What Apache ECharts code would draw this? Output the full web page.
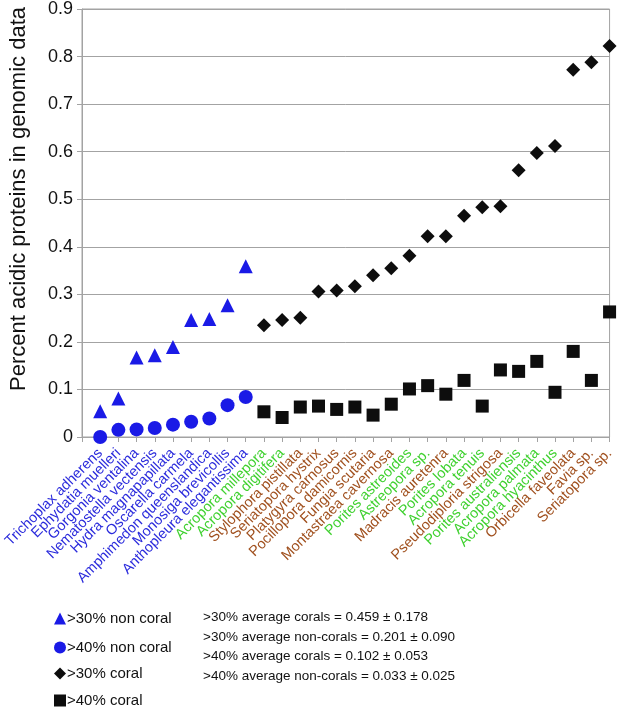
<!DOCTYPE html>
<html>
<head>
    <meta charset="utf-8">
    <title>ECharts</title>
    <script src="https://cdn.jsdelivr.net/npm/echarts@6/dist/echarts.min.js"></script>
    <style>
        html, body { margin: 0; padding: 0; background: #fff; }
    </style>
</head>
<body>
    <div id="main" style="width: 617px;height:708px;"></div>

    <script type="text/javascript">
// species, in plot order (first slot is empty, like the original axis)
var nonCorals = ['Trichoplax adherens', 'Ephydatia muelleri', 'Gorgonia ventalina',
    'Nematostella vectensis', 'Hydra magnapapillata', 'Oscarella carmela',
    'Amphimedon queenslandica', 'Monosiga brevicollis', 'Anthopleura elegantissima'];
var corals = ['Acropora millepora', 'Acropora digitifera', 'Stylophora pistillata',
    'Seriatopora hystrix', 'Platygyra carnosus', 'Pocillopora damicornis',
    'Fungia scutaria', 'Montastraea cavernosa', 'Porites astreoides', 'Astreopora sp.',
    'Madracis auretenra', 'Porites lobata', 'Acropora tenuis', 'Pseudodiploria strigosa',
    'Porites australiensis', 'Acropora palmata', 'Acropora hyacinthus',
    'Orbicella faveolata', 'Favia sp.', 'Seriatopora sp.'];
// g = green (complex), b = brown (robust)
var coralGroup = ['g', 'g', 'b', 'b', 'b', 'b', 'b', 'b', 'g', 'g',
    'b', 'g', 'g', 'b', 'g', 'g', 'g', 'b', 'b', 'b'];

var nonCoral30 = [0.054, 0.081, 0.167, 0.172, 0.189, 0.246, 0.248, 0.277, 0.359];
var nonCoral40 = [0.0, 0.015, 0.016, 0.019, 0.026, 0.032, 0.039, 0.067, 0.084];
var coral30 = [0.235, 0.246, 0.251, 0.306, 0.308, 0.317, 0.340, 0.355, 0.381, 0.422,
    0.422, 0.465, 0.483, 0.485, 0.561, 0.597, 0.612, 0.772, 0.788, 0.822];
var coral40 = [0.053, 0.041, 0.063, 0.065, 0.058, 0.063, 0.046, 0.069, 0.101, 0.108,
    0.090, 0.119, 0.065, 0.141, 0.138, 0.159, 0.094, 0.180, 0.119, 0.263];

var seriesNames = ['>30% non coral', '>40% non coral', '>30% coral', '>40% coral'];
var legendIcons = ['triangle', 'circle', 'diamond', 'rect'];

var statLines = [
    '>30% average corals = 0.459 \u00b1 0.178',
    '>30% average non-corals = 0.201 \u00b1 0.090',
    '>40% average corals = 0.102 \u00b1 0.053',
    '>40% average non-corals = 0.033 \u00b1 0.025'
];

var categories = [''].concat(nonCorals, corals);

var BLUE = '#1a1ae6';
var LABEL_BLUE = '#2b2bdc';
var GREEN = '#3fd12f';
var BROWN = '#a0501e';

function pairs(vals, offset) {
    var res = [];
    for (var i = 0; i < vals.length; i++) {
        res.push([offset + i, vals[i]]);
    }
    return res;
}

// one legend per row so they stack like the original
var legendTops = [611, 640, 666, 693];
var legends = seriesNames.map(function (name, i) {
    return {
        orient: 'vertical',
        left: 54,
        top: legendTops[i],
        padding: 0,
        itemWidth: 12,
        itemHeight: 12,
        textStyle: { fontSize: 15, color: '#111', padding: [0, 0, 0, -4] },
        data: [{ name: name, icon: legendIcons[i] }]
    };
});

var chart = echarts.init(document.getElementById('main'));

chart.setOption({
    backgroundColor: '#fff',
    animation: false,
    textStyle: { fontFamily: 'Liberation Sans, Arial, sans-serif' },
    grid: {
        left: 82,
        right: 7,
        top: 5,
        bottom: 271,
        show: true,
        borderColor: '#a3a3a3',
        borderWidth: 1
    },
    title: {
        text: statLines.join('\n'),
        left: 203,
        top: 608,
        padding: 0,
        textStyle: {
            fontSize: 13.5,
            fontWeight: 'normal',
            color: '#111',
            lineHeight: 19.5
        }
    },
    legend: legends,
    xAxis: {
        type: 'category',
        data: categories,
        boundaryGap: false,
        axisLine: { lineStyle: { color: '#a3a3a3' } },
        axisTick: { interval: 0, length: 5, lineStyle: { color: '#a3a3a3' } },
        splitLine: { show: false },
        axisLabel: {
            interval: 0,
            rotate: 45,
            fontSize: 14.5,
            margin: 14,
            color: function (value, index) {
                var i = categories.indexOf(value);
                if (i <= nonCorals.length) return LABEL_BLUE;
                return coralGroup[i - nonCorals.length - 1] === 'g' ? GREEN : BROWN;
            }
        }
    },
    yAxis: {
        type: 'value',
        min: 0,
        max: 0.9,
        interval: 0.1,
        name: 'Percent acidic proteins in genomic data',
        nameLocation: 'middle',
        nameGap: 52,
        // pushed a little upward, as in the original figure
        nameTextStyle: { fontSize: 22, color: '#111', padding: [0, 0, 0, 48] },
        axisLine: { show: true, lineStyle: { color: '#a3a3a3' } },
        axisTick: { show: true, length: 5, lineStyle: { color: '#a3a3a3' } },
        axisLabel: {
            fontSize: 18,
            color: '#111',
            margin: 9,
            formatter: function (v) { return v === 0 ? '0' : v.toFixed(1); }
        },
        splitLine: { lineStyle: { color: '#a3a3a3' } }
    },
    series: [
        {
            name: seriesNames[0],
            type: 'scatter',
            symbol: 'triangle',
            symbolSize: 14,
            itemStyle: { color: BLUE, opacity: 1 },
            data: pairs(nonCoral30, 1)
        },
        {
            name: seriesNames[1],
            type: 'scatter',
            symbol: 'circle',
            symbolSize: 14,
            itemStyle: { color: BLUE, opacity: 1 },
            data: pairs(nonCoral40, 1)
        },
        {
            name: seriesNames[2],
            type: 'scatter',
            symbol: 'diamond',
            symbolSize: 14,
            itemStyle: { color: '#0d0d0d', opacity: 1 },
            data: pairs(coral30, nonCorals.length + 1)
        },
        {
            name: seriesNames[3],
            type: 'scatter',
            symbol: 'rect',
            symbolSize: 13,
            itemStyle: { color: '#0d0d0d', opacity: 1 },
            data: pairs(coral40, nonCorals.length + 1)
        }
    ]
});
    </script>
</body>
</html>
